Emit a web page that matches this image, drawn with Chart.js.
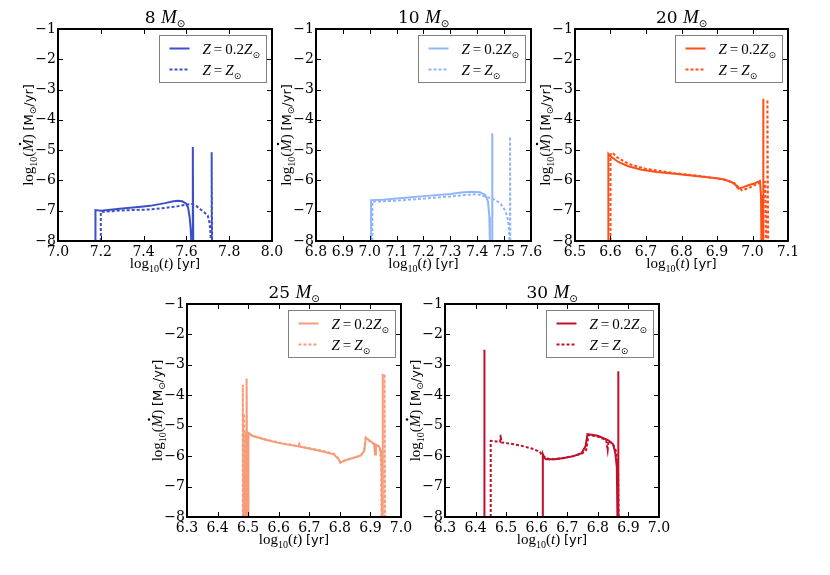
<!DOCTYPE html>
<html><head><meta charset="utf-8">
<script src="https://cdn.jsdelivr.net/npm/chart.js@4.4.1/dist/chart.umd.min.js"></script>
<style>
html,body{margin:0;padding:0;background:#fff;}
body{width:830px;height:575px;position:relative;overflow:hidden;}
canvas{position:absolute;}
</style></head><body>
<script>
// ---------------- DATA ----------------
const masses = ['8', '10', '20', '25', '30'];
const seriesLabels = ['Z=0.2Z\u2299', 'Z=Z\u2299'];
const yTickValues = [-1, -2, -3, -4, -5, -6, -7, -8];

// 8 Msun
const m8_lowZ_t    = [7.175, 7.175, 7.2, 7.3, 7.4, 7.43, 7.5, 7.54, 7.562, 7.58, 7.598, 7.608, 7.615, 7.62, 7.623, 7.63, 7.63, 7.632];
const m8_lowZ_mdot = [-8, -6.98, -7.0, -6.93, -6.86, -6.84, -6.75, -6.69, -6.67, -6.69, -6.76, -6.9, -7.2, -7.6, -8, -8, -4.9, -8];
const m8_solZ_t    = [7.2, 7.2, 7.3, 7.43, 7.5, 7.56, 7.6, 7.625, 7.645, 7.665, 7.685, 7.70, 7.708, 7.712, 7.714, 7.718, 7.718, 7.72];
const m8_solZ_mdot = [-8, -7.04, -6.99, -6.96, -6.91, -6.85, -6.8, -6.78, -6.84, -6.95, -7.06, -7.17, -7.4, -7.7, -8, -8, -5.07, -8];

// 10 Msun
const m10_lowZ_t    = [7.005, 7.005, 7.05, 7.1, 7.212, 7.3, 7.34, 7.379, 7.41, 7.43, 7.44, 7.445, 7.447, 7.455, 7.455, 7.457];
const m10_lowZ_mdot = [-8, -6.65, -6.64, -6.6, -6.51, -6.45, -6.4, -6.37, -6.39, -6.48, -6.7, -7.2, -8, -8, -4.44, -8];
const m10_solZ_t    = [7.01, 7.01, 7.05, 7.1, 7.2, 7.3, 7.398, 7.441, 7.465, 7.485, 7.503, 7.512, 7.517, 7.52, 7.522, 7.522, 7.523];
const m10_solZ_mdot = [-8, -6.70, -6.69, -6.67, -6.6, -6.53, -6.45, -6.56, -6.64, -6.75, -6.98, -7.2, -7.5, -8, -8, -4.55, -8];

// 20 Msun
const m20_lowZ_t    = [6.594, 6.594, 6.6, 6.622, 6.65, 6.688, 6.73, 6.782, 6.852, 6.9, 6.923, 6.94, 6.951, 6.96, 6.975, 6.988, 7.005, 7.021, 7.024, 7.025, 7.03, 7.03, 7.031];
const m20_lowZ_mdot = [-8, -5.12, -5.2, -5.39, -5.53, -5.65, -5.72, -5.78, -5.87, -5.93, -5.98, -6.05, -6.13, -6.27, -6.22, -6.16, -6.1, -6.02, -6.5, -8, -8, -3.3, -8];
const m20_solZ_t    = [6.6, 6.6, 6.605, 6.62, 6.65, 6.7, 6.78, 6.85, 6.92, 6.95, 6.97, 6.99, 7.015, 7.035, 7.038, 7.042, 7.042, 7.044];
const m20_solZ_mdot = [-8, -5.15, -5.08, -5.25, -5.45, -5.62, -5.76, -5.85, -5.97, -6.1, -6.33, -6.25, -6.1, -6.05, -8, -8, -3.33, -8];

// 25 Msun
const m25_lowZ_t    = [6.49, 6.49, 6.492, 6.495, 6.495, 6.497, 6.5, 6.5, 6.502, 6.513, 6.56, 6.606, 6.665, 6.667, 6.67, 6.737, 6.78, 6.797, 6.802, 6.81, 6.825, 6.85, 6.868, 6.88, 6.885, 6.9, 6.912, 6.915, 6.918, 6.928, 6.934, 6.937, 6.938, 6.94, 6.94, 6.941];
const m25_lowZ_mdot = [-8, -5.2, -8, -8, -3.45, -8, -8, -5.2, -5.22, -5.33, -5.47, -5.58, -5.68, -5.6, -5.69, -5.83, -5.94, -6.11, -6.22, -6.17, -6.11, -6.04, -5.98, -5.83, -5.39, -5.5, -5.61, -5.95, -5.62, -5.67, -5.83, -6.44, -8, -8, -3.3, -8];
const m25_solZ_t    = [6.4825, 6.4825, 6.484, 6.487, 6.487, 6.489, 6.493, 6.5, 6.51, 6.56, 6.61, 6.67, 6.74, 6.78, 6.796, 6.8, 6.82, 6.85, 6.87, 6.879, 6.884, 6.9, 6.915, 6.93, 6.935, 6.936, 6.946, 6.946, 6.948];
const m25_solZ_mdot = [-8, -3.65, -8, -8, -4.6, -8, -5.28, -5.24, -5.31, -5.46, -5.57, -5.68, -5.82, -5.92, -6.08, -6.2, -6.13, -6.04, -5.97, -5.8, -5.42, -5.52, -5.62, -5.7, -6.2, -8, -8, -3.3, -8];

// 30 Msun
const m30_lowZ_t    = [6.428, 6.428, 6.43, 6.62, 6.62, 6.625, 6.63, 6.66, 6.69, 6.72, 6.747, 6.76, 6.766, 6.8, 6.833, 6.85, 6.857, 6.862, 6.864, 6.866, 6.866, 6.868];
const m30_lowZ_mdot = [-8, -2.5, -8, -8, -5.93, -6.05, -6.1, -6.1, -6.06, -6.0, -5.9, -5.67, -5.28, -5.33, -5.47, -5.61, -5.9, -6.36, -8, -8, -3.21, -8];
const m30_solZ_t    = [6.4495, 6.4495, 6.47, 6.48, 6.482, 6.484, 6.52, 6.555, 6.59, 6.61, 6.62, 6.643, 6.68, 6.72, 6.75, 6.762, 6.767, 6.77, 6.8, 6.827, 6.832, 6.835, 6.848, 6.86, 6.866, 6.868];
const m30_solZ_mdot = [-8, -5.5, -5.52, -5.53, -5.3, -5.55, -5.6, -5.67, -5.77, -5.86, -6.0, -6.11, -6.07, -6.0, -5.9, -5.8, -5.47, -5.3, -5.36, -5.47, -5.8, -5.5, -5.58, -5.85, -6.4, -8];

// ---------------- LAYOUT / STYLE ----------------
const panels = [
  {mass: masses[0], area:[58, 29, 272, 241], xmin:7.0, xmax:8.0, step:0.2, color:'#3c50c6',
   s:[m8_lowZ_t, m8_lowZ_mdot], d:[m8_solZ_t, m8_solZ_mdot]},
  {mass: masses[1], area:[316, 29, 531, 241], xmin:6.8, xmax:7.6, step:0.1, color:'#90b5f9',
   s:[m10_lowZ_t, m10_lowZ_mdot], d:[m10_solZ_t, m10_solZ_mdot]},
  {mass: masses[2], area:[575, 29, 788, 241], xmin:6.5, xmax:7.1, step:0.1, color:'#ff4f18',
   s:[m20_lowZ_t, m20_lowZ_mdot], d:[m20_solZ_t, m20_solZ_mdot]},
  {mass: masses[3], area:[187, 304, 401, 517], xmin:6.3, xmax:7.0, step:0.1, color:'#f79c7b',
   s:[m25_lowZ_t, m25_lowZ_mdot], d:[m25_solZ_t, m25_solZ_mdot]},
  {mass: masses[4], area:[445, 304, 659, 517], xmin:6.3, xmax:7.0, step:0.1, color:'#c1102c',
   s:[m30_lowZ_t, m30_lowZ_mdot], d:[m30_solZ_t, m30_solZ_mdot]},
];

const LEFT = 58, TOP = 29, RIGHT = 24, BOTTOM = 40;
const SERIF = '"DejaVu Serif"', MATH = '"Liberation Serif"', SANS = '"DejaVu Sans"';

function rich(ctx, parts, x, y, align) {
  let w = 0;
  parts.forEach(p => { ctx.font = p[1]; w += ctx.measureText(p[0]).width; });
  let cx = align === 'center' ? x - w / 2 : (align === 'right' ? x - w : x);
  parts.forEach(p => {
    ctx.font = p[1];
    const tw = ctx.measureText(p[0]).width;
    ctx.fillText(p[0], cx, y + (p[2] || 0));
    if (p[3] === 'dot') {
      ctx.beginPath();
      ctx.arc(cx + tw * 0.62, y - 13, 1.2, 0, Math.PI * 2);
      ctx.fill();
    }
    cx += tw;
  });
}

const framePlugin = {
  id: 'frame',
  afterDraw(chart, args, opts) {
    const {ctx, chartArea: a, scales: {x, y}} = chart;
    ctx.save();
    ctx.strokeStyle = '#000';
    ctx.fillStyle = '#000';
    // inward ticks
    ctx.lineWidth = 1;
    ctx.beginPath();
    x.ticks.forEach(t => {
      const px = Math.round(x.getPixelForValue(t.value)) + 0.5;
      ctx.moveTo(px, a.bottom); ctx.lineTo(px, a.bottom - 5);
      ctx.moveTo(px, a.top); ctx.lineTo(px, a.top + 5);
    });
    y.ticks.forEach(t => {
      const py = Math.round(y.getPixelForValue(t.value)) + 0.5;
      ctx.moveTo(a.left, py); ctx.lineTo(a.left + 5, py);
      ctx.moveTo(a.right, py); ctx.lineTo(a.right - 5, py);
    });
    ctx.stroke();
    // frame
    ctx.lineWidth = 2;
    ctx.strokeRect(a.left, a.top, a.right - a.left, a.bottom - a.top);
    // title
    ctx.textBaseline = 'alphabetic';
    const cxm = (a.left + a.right) / 2;
    rich(ctx, [[opts.mass + ' ', '17px ' + SERIF], ['M', 'italic 19px ' + MATH], ['\u2299', '10px ' + SANS, 4]], cxm, a.top - 6, 'center');
    // x label
    rich(ctx, [['log', '15px ' + MATH], ['10', '10px ' + MATH, 4], ['(', '15px ' + MATH], ['t', 'italic 15px ' + MATH], [') ', '15px ' + MATH], ['[yr]', '13px ' + SANS]], cxm, a.bottom + 27, 'center');
    // y label
    ctx.save();
    ctx.translate(a.left - 25, (a.top + a.bottom) / 2);
    ctx.rotate(-Math.PI / 2);
    rich(ctx, [['log', '15px ' + MATH], ['10', '10px ' + MATH, 4], ['(', '15px ' + MATH], ['M', 'italic 15px ' + MATH, 0, 'dot'], [') ', '15px ' + MATH], ['[M', '13px ' + SANS], ['\u2299', '9px ' + SANS, 3], ['/yr]', '13px ' + SANS]], 0, 0, 'center');
    ctx.restore();
    // legend
    const bw = 107, bh = 47;
    const bx = Math.round(a.right - 6 - bw) + 0.5, by = Math.round(a.top + 6) + 0.5;
    ctx.fillStyle = '#fff';
    ctx.fillRect(bx, by, bw, bh);
    ctx.strokeStyle = '#808080';
    ctx.lineWidth = 1;
    ctx.strokeRect(bx, by, bw, bh);
    const rows = [by + 13, by + 34];
    chart.data.datasets.forEach((ds, i) => {
      ctx.strokeStyle = ds.borderColor;
      ctx.lineWidth = 2;
      ctx.setLineDash(ds.borderDash || []);
      ctx.beginPath();
      ctx.moveTo(bx + 10, rows[i]); ctx.lineTo(bx + 30, rows[i]);
      ctx.stroke();
      ctx.setLineDash([]);
      ctx.fillStyle = '#000';
      const parts = i === 0
        ? [['Z', 'italic 15px ' + MATH], ['\u2009=\u2009', '15px ' + MATH], ['0.2', '15px ' + MATH], ['Z', 'italic 15px ' + MATH], ['\u2299', '9px ' + SANS, 4]]
        : [['Z', 'italic 15px ' + MATH], ['\u2009=\u2009', '15px ' + MATH], ['Z', 'italic 15px ' + MATH], ['\u2299', '9px ' + SANS, 4]];
      rich(ctx, parts, bx + 43, rows[i] + 5, 'left');
    });
    ctx.restore();
  }
};

function pts(t, v) { return t.map((x, i) => ({x: x, y: v[i]})); }

panels.forEach((p, idx) => {
  const [l, t, r, b] = p.area;
  const cv = document.createElement('canvas');
  const W = LEFT + (r - l) + RIGHT, H = TOP + (b - t) + BOTTOM;
  cv.width = W; cv.height = H;
  cv.style.left = (l - LEFT) + 'px';
  cv.style.top = (t - TOP) + 'px';
  cv.style.width = W + 'px'; cv.style.height = H + 'px';
  document.body.appendChild(cv);
  const tickFont = {family: 'DejaVu Serif', size: 14};
  new Chart(cv, {
    type: 'scatter',
    data: {datasets: [
      {label: seriesLabels[0], data: pts(p.s[0], p.s[1]), showLine: true, borderColor: p.color, backgroundColor: p.color,
       borderWidth: 2, pointRadius: 0, tension: 0, fill: false},
      {label: seriesLabels[1], data: pts(p.d[0], p.d[1]), showLine: true, borderColor: p.color, backgroundColor: p.color,
       borderWidth: 2, borderDash: [3, 2], pointRadius: 0, tension: 0, fill: false}
    ]},
    options: {
      responsive: false, animation: false, devicePixelRatio: 1,
      layout: {padding: {top: TOP, left: 0, right: RIGHT, bottom: 0}},
      plugins: {legend: {display: false}, tooltip: {enabled: false}, frame: {mass: p.mass}},
      scales: {
        x: {type: 'linear', min: p.xmin, max: p.xmax,
            afterFit: s => { s.height = BOTTOM; },
            grid: {display: false, drawTicks: false}, border: {display: false},
            ticks: {stepSize: p.step, autoSkip: false, maxRotation: 0, padding: 3, color: '#000', font: tickFont,
                    callback: v => Number(v).toFixed(1)}},
        y: {type: 'linear', min: -8, max: -1,
            afterFit: s => { s.width = LEFT; },
            grid: {display: false, drawTicks: false}, border: {display: false},
            afterBuildTicks: s => { s.ticks = yTickValues.map(v => ({value: v})); },
            ticks: {stepSize: 1, padding: 2, color: '#000', font: tickFont,
                    callback: v => (v < 0 ? '\u2212' : '') + Math.abs(v)}}
      }
    },
    plugins: [framePlugin]
  });
});
</script>
</body></html>
